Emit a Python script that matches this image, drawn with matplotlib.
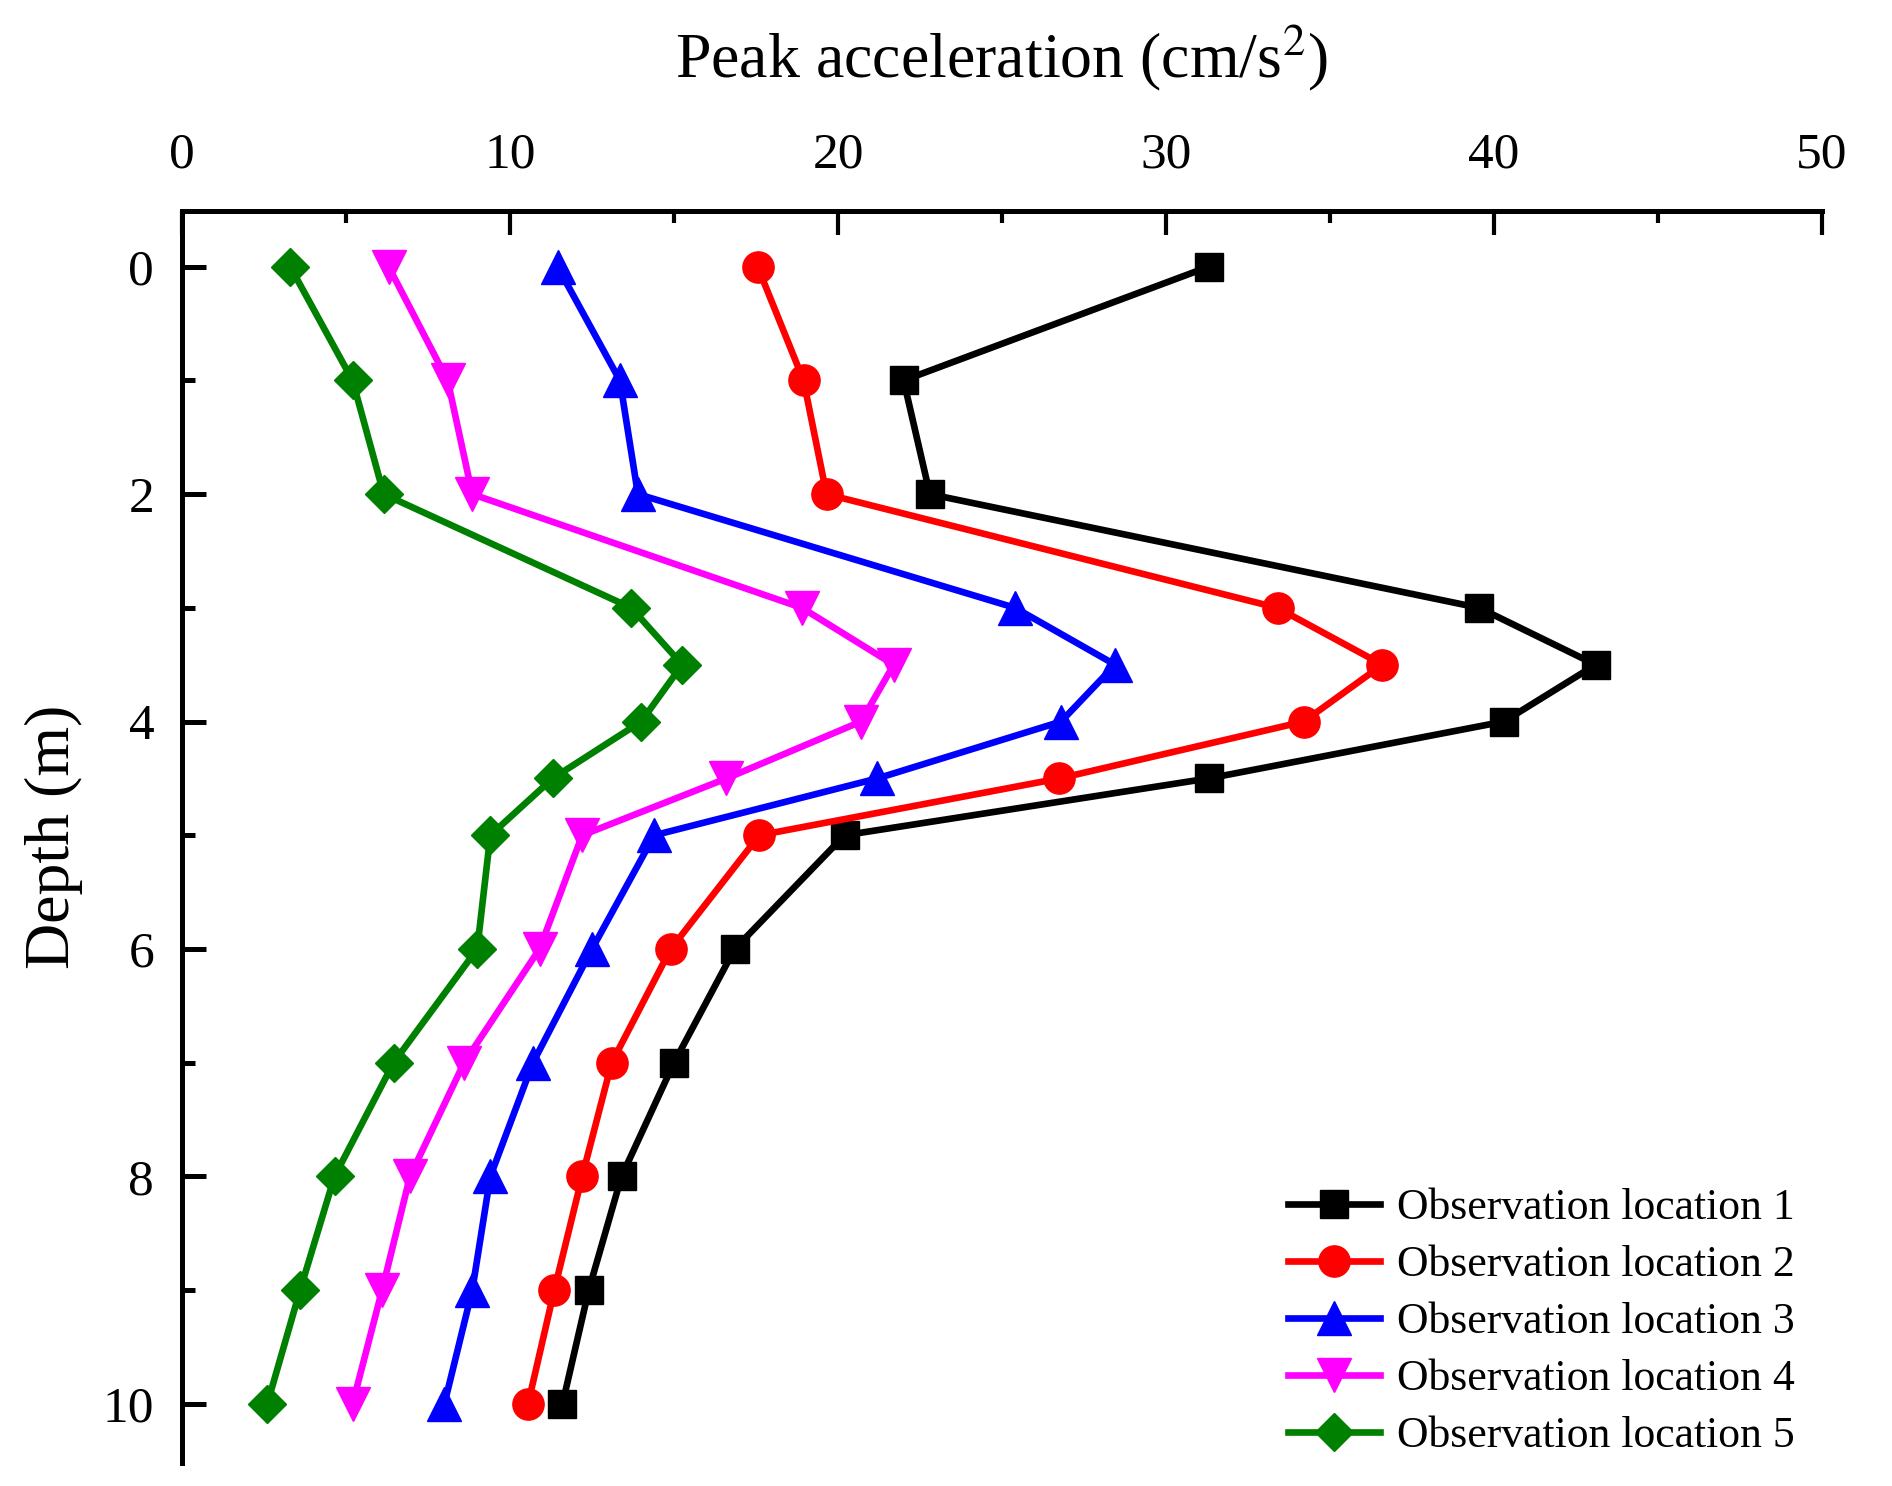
import matplotlib
matplotlib.use("Agg")
import matplotlib.pyplot as plt
from matplotlib.ticker import MultipleLocator

depth = [0, 1, 2, 3, 3.5, 4, 4.5, 5, 6, 7, 8, 9, 10]
loc1 = [31.3, 22.0, 22.8, 39.55, 43.1, 40.3, 31.3, 20.2, 16.85, 15.0, 13.4, 12.4, 11.6]
loc2 = [17.55, 18.95, 19.65, 33.4, 36.6, 34.2, 26.75, 17.6, 14.9, 13.1, 12.2, 11.35, 10.55]
loc3 = [11.45, 13.35, 13.9, 25.4, 28.45, 26.8, 21.2, 14.4, 12.5, 10.7, 9.4, 8.85, 8.0]
loc4 = [6.3, 8.1, 8.85, 18.9, 21.7, 20.7, 16.6, 12.2, 10.9, 8.6, 6.95, 6.1, 5.2]
loc5 = [3.3, 5.2, 6.15, 13.7, 15.25, 14.0, 11.3, 9.4, 9.0, 6.45, 4.65, 3.6, 2.6]
labels = ["Observation location 1", "Observation location 2", "Observation location 3",
          "Observation location 4", "Observation location 5"]
x_ticks = [0, 10, 20, 30, 40, 50]
y_ticks = [0, 2, 4, 6, 8, 10]

plt.rcParams['font.family'] = ['Liberation Serif', 'DejaVu Serif']
plt.rcParams['mathtext.fontset'] = 'stix'

fig = plt.figure(figsize=(18.92, 14.86), dpi=100)
ax = fig.add_axes([0.0962, 0.0155, 0.963 - 0.0962, 0.858 - 0.0155])

series = [loc1, loc2, loc3, loc4, loc5]
colors = ['#000000', '#FF0000', '#0000FF', '#FF00FF', '#008000']
markers = ['s', 'o', '^', 'v', 'D']
msizes = [20, 22.5, 25, 24, 19]
for vals, c, m, ms, lab in zip(series, colors, markers, msizes, labels):
    ax.plot(vals, depth, color=c, marker=m, markersize=ms, linewidth=4.8,
            label=lab, clip_on=False, zorder=3)

ax.set_xlim(0, 50)
ax.set_ylim(10.52, -0.49)
ax.xaxis.tick_top()
ax.xaxis.set_label_position('top')
ax.set_xticks(x_ticks)
ax.set_yticks(y_ticks)
ax.xaxis.set_minor_locator(MultipleLocator(5))
ax.yaxis.set_minor_locator(MultipleLocator(1))

for s in ['right', 'bottom']:
    ax.spines[s].set_visible(False)
for s in ['top', 'left']:
    ax.spines[s].set_linewidth(3.6)

ax.tick_params(axis='x', which='major', direction='in', length=17, width=3.0,
               labelsize=37, pad=23.5, top=True, bottom=False)
ax.tick_params(axis='x', which='minor', direction='in', length=8.5, width=3.0,
               top=True, bottom=False)
ax.tick_params(axis='y', which='major', direction='in', length=17, width=3.6,
               labelsize=37, pad=20, left=True, right=False)
ax.tick_params(axis='y', which='minor', direction='in', length=9, width=3.6,
               left=True, right=False)

ax.set_xlabel(r'Peak acceleration (cm/s$^{2}$)', fontsize=46, labelpad=39)
ax.set_ylabel('Depth (m)', fontsize=46, labelpad=14)

leg = ax.legend(loc='lower right', bbox_to_anchor=(0.997, -0.012), frameon=False,
                fontsize=31.5, labelspacing=0.39, handlelength=2.1,
                handletextpad=0.4, borderaxespad=0.1)

fig.savefig('out.png', dpi=100)
